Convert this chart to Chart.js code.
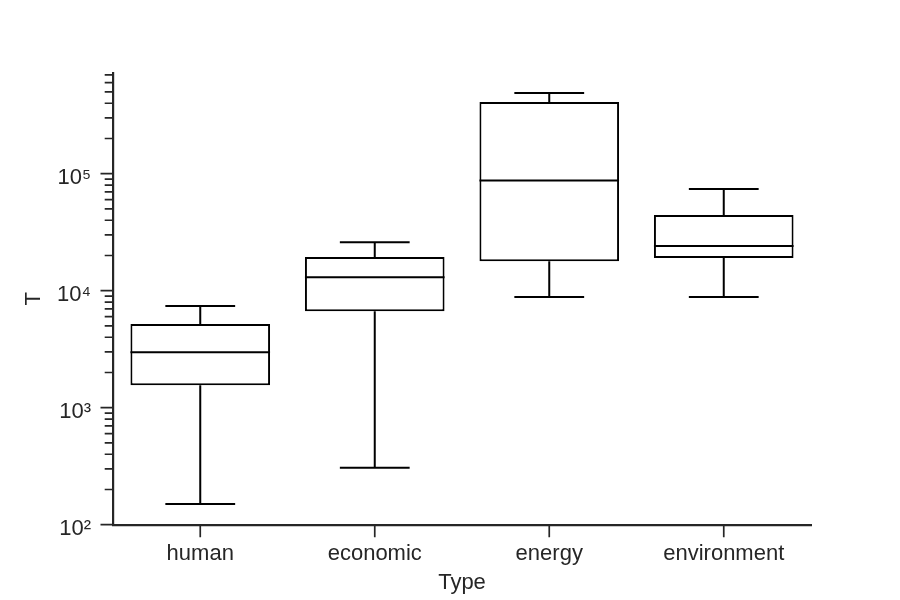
<!DOCTYPE html>
<html>
<head>
<meta charset="utf-8">
<title>T by Type</title>
<script src="https://cdn.jsdelivr.net/npm/chart.js@4.4.1/dist/chart.umd.min.js"></script>
<style>
  body { margin: 0; background: #fff; }
  #wrap { width: 900px; height: 600px; }
</style>
</head>
<body>
<div id="wrap"><canvas id="myChart" width="900" height="600"></canvas></div>
<script>
// box plot values
var categories = ['human', 'economic', 'energy', 'environment']
var whiskerLow  = [150, 306, 8850, 8850]
var q1          = [1556, 6680, 17870, 19070]
var median      = [2978, 13040, 87470, 24150]
var q3          = [5200, 19450, 410900, 44450]
var whiskerHigh = [7413, 25970, 490400, 74130]

// y axis
var yMin = 100
var yMax = 730000
var majorTicks = [100, 1000, 10000, 100000]
var tickLabels = ['10²', '10³', '10⁴', '10⁵']

var axisColor = '#262626'
var fontFamily = '"Liberation Sans", Arial, sans-serif'

var boxes = categories.map(function(c, i){
    return [q1[i], q3[i]]
})

// whiskers, caps, medians and tick marks drawn with the chart's scales
var boxPlugin = {
    id: 'boxExtras',
    afterDatasetsDraw: function(chart) {
        var ctx = chart.ctx
        var x = chart.scales.x
        var y = chart.scales.y
        var bars = chart.getDatasetMeta(0).data
        ctx.save()
        ctx.strokeStyle = '#000'
        ctx.lineWidth = 2
        ctx.lineCap = 'butt'
        categories.forEach(function(c, i){
            var cx = x.getPixelForValue(i)
            var half = bars[i].width / 2
            var cap = half / 2
            ctx.beginPath()
            // median
            ctx.moveTo(cx - half, y.getPixelForValue(median[i]))
            ctx.lineTo(cx + half, y.getPixelForValue(median[i]))
            // upper whisker
            ctx.moveTo(cx, y.getPixelForValue(q3[i]))
            ctx.lineTo(cx, y.getPixelForValue(whiskerHigh[i]))
            ctx.moveTo(cx - cap, y.getPixelForValue(whiskerHigh[i]))
            ctx.lineTo(cx + cap, y.getPixelForValue(whiskerHigh[i]))
            // lower whisker
            ctx.moveTo(cx, y.getPixelForValue(q1[i]))
            ctx.lineTo(cx, y.getPixelForValue(whiskerLow[i]))
            ctx.moveTo(cx - cap, y.getPixelForValue(whiskerLow[i]))
            ctx.lineTo(cx + cap, y.getPixelForValue(whiskerLow[i]))
            ctx.stroke()
        })
        ctx.restore()
    },
    afterDraw: function(chart) {
        var ctx = chart.ctx
        var x = chart.scales.x
        var y = chart.scales.y
        var area = chart.chartArea
        ctx.save()
        ctx.strokeStyle = axisColor
        ctx.lineWidth = 1.7
        ctx.beginPath()
        y.ticks.forEach(function(t){
            var py = y.getPixelForValue(t.value)
            var len = majorTicks.indexOf(t.value) >= 0 ? 12.5 : 8.3
            ctx.moveTo(area.left, py)
            ctx.lineTo(area.left - len, py)
        })
        categories.forEach(function(c, i){
            var px = x.getPixelForValue(i)
            ctx.moveTo(px, area.bottom)
            ctx.lineTo(px, area.bottom + 12.5)
        })
        ctx.stroke()
        ctx.restore()
    }
}

var ctx = document.getElementById('myChart')
var myChart = new Chart(ctx, {
    type: 'bar',
    data: {
        labels: categories,
        datasets: [{
            label: 'T',
            data: boxes,
            backgroundColor: '#ffffff',
            borderColor: '#000000',
            borderWidth: 2,
            borderSkipped: false,
            barPercentage: 0.8,
            categoryPercentage: 1
        }]
    },
    plugins: [boxPlugin],
    options: {
        responsive: false,
        animation: false,
        devicePixelRatio: 1,
        layout: {
            padding: { top: 72.7, right: 89, bottom: 0, left: 0 }
        },
        plugins: {
            legend: { display: false },
            tooltip: { enabled: false }
        },
        scales: {
            x: {
                grid: { display: false, drawTicks: false },
                border: { display: true, color: axisColor, width: 2.2 },
                ticks: {
                    color: axisColor,
                    padding: 16,
                    font: { family: fontFamily, size: 22 }
                },
                title: {
                    display: true,
                    text: 'Type',
                    color: axisColor,
                    padding: { top: 0, bottom: 4 },
                    font: { family: fontFamily, size: 22 }
                },
                afterFit: function(scale) {
                    scale.height = 75.3
                }
            },
            y: {
                type: 'logarithmic',
                min: yMin,
                max: yMax,
                grid: { display: false, drawTicks: false },
                border: { display: true, color: axisColor, width: 2.2 },
                ticks: {
                    autoSkip: false,
                    color: axisColor,
                    padding: 22,
                    labelOffset: 4,
                    font: { family: fontFamily, size: 22 },
                    callback: function(value) {
                        var k = majorTicks.indexOf(value)
                        return k >= 0 ? tickLabels[k] : ''
                    }
                },
                title: {
                    display: true,
                    text: 'T',
                    color: axisColor,
                    padding: { top: 21, bottom: 0 },
                    font: { family: fontFamily, size: 22 }
                },
                afterBuildTicks: function(scale) {
                    var list = []
                    majorTicks.forEach(function(m){
                        for (var k = 1; k <= 9; k++) {
                            if (m * k <= yMax) list.push({ value: m * k })
                        }
                    })
                    scale.ticks = list
                },
                afterFit: function(scale) {
                    scale.width = 113
                }
            }
        }
    }
})
</script>
</body>
</html>
